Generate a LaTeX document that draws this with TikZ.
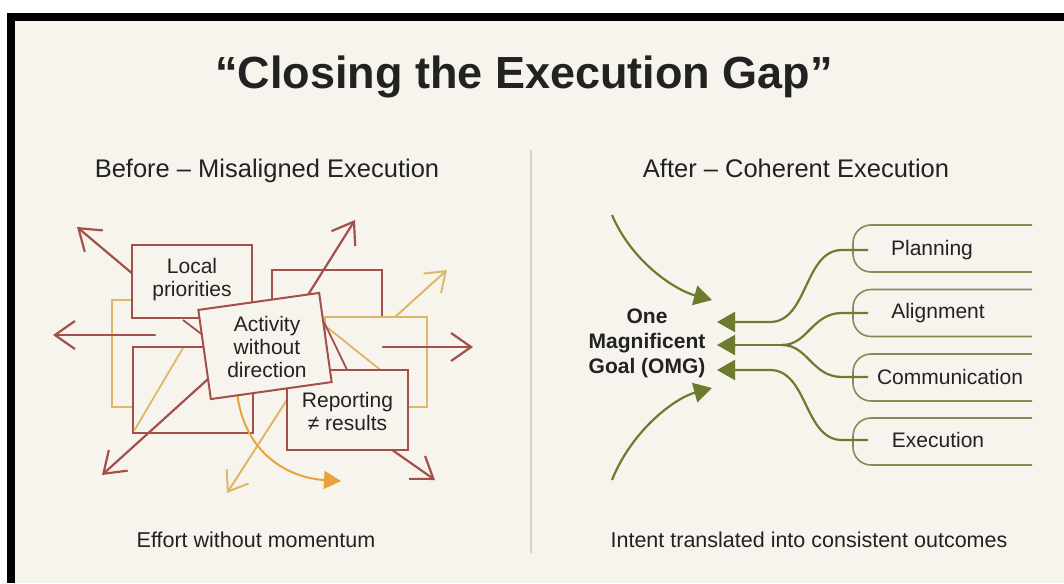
\documentclass[tikz,border=0pt]{standalone}
\usepackage{fontspec}
\setmainfont{Liberation Sans}
\usetikzlibrary{arrows.meta}

\definecolor{paper}{HTML}{F7F4EE}
\definecolor{brick}{HTML}{A4504A}
\definecolor{sand}{HTML}{DDB868}
\definecolor{amber}{HTML}{E9A33C}
\definecolor{olive}{HTML}{6E7B2E}
\definecolor{oliveline}{HTML}{858C55}
\definecolor{ink}{HTML}{222222}
\definecolor{rulegrey}{HTML}{D6D3CC}

\newcommand{\fs}[2]{\fontsize{#1}{#2}\selectfont}

\begin{document}
\begin{tikzpicture}[x=1pt,y=-1pt,
  every node/.style={text=ink, inner sep=0pt},
  title/.style={font=\fs{45}{49}\bfseries},
  heading/.style={font=\fs{25.5}{29}},
  caption/.style={font=\fs{21.5}{25}},
  label/.style={font=\fs{21}{23}, align=center},
  redbox/.style={draw=brick, line width=2pt, fill=paper},
  ghostred/.style={draw=brick, line width=1.6pt, fill=paper},
  ghostsand/.style={draw=sand, line width=1.6pt, fill=paper},
  redarrow/.style={brick, line width=2.2pt, line cap=round,
    -{Straight Barb[length=20pt,width=28pt,line width=2.2pt]}},
  sandarrow/.style={sand, line width=2pt, line cap=round,
    -{Straight Barb[length=18pt,width=26pt,line width=2pt]}},
  redline/.style={brick, line width=1.8pt},
  sandline/.style={sand, line width=1.8pt},
  goalarrow/.style={olive, line width=2.2pt,
    -{Triangle[length=18pt,width=20pt]}},
  branch/.style={olive, line width=2.2pt},
  pill/.style={oliveline, line width=1.6pt, rounded corners=18pt},
]
\useasboundingbox (0,0) rectangle (1064,583);

% page, with the dark frame on the top and left edges
\fill[white] (0,0) rectangle (1064,583);
\fill[paper] (7,13) rectangle (1064,583);
\fill[black] (7,13) rectangle (1064,21);
\fill[black] (7,13) rectangle (15,583);

% title, column headings, captions
\node[title, anchor=base] (title) at (524,89) {“Closing the Execution Gap”};
\node[heading, anchor=base] (hbefore) at (267,177) {Before – Misaligned Execution};
\node[heading, anchor=base] (hafter) at (796,177) {After – Coherent Execution};
\node[caption, anchor=base] (cbefore) at (256,547) {Effort without momentum};
\node[caption, anchor=base] (cafter) at (809,547) {Intent translated into consistent outcomes};
\coordinate (divtop) at (531,150);
\coordinate (divbot) at (531,553);
\draw[rulegrey, line width=1.2pt] (divtop) -- (divbot);

% ---------------- left: misaligned execution ----------------
% stacked background frames
\draw[ghostsand] (112,300) rectangle (240,407);
\draw[ghostred]  (133,347) rectangle (253,433);
\draw[ghostred]  (272,270) rectangle (382,360);
\draw[ghostsand] (325,317) rectangle (427,407);

% scattered arrows and stray lines
\coordinate (a1s) at (140,280); \coordinate (a1e) at (77,227);
\coordinate (a2s) at (155,335); \coordinate (a2e) at (53,335);
\coordinate (a3s) at (301,306); \coordinate (a3e) at (355,220);
\coordinate (a4s) at (383,347); \coordinate (a4e) at (473,347);
\coordinate (a5s) at (218,370); \coordinate (a5e) at (102,475);
\coordinate (a6s) at (378,440); \coordinate (a6e) at (435,480);
\coordinate (t1s) at (395,317); \coordinate (t1e) at (447,270);
\coordinate (t2s) at (292,392); \coordinate (t2e) at (227,493);
\coordinate (oas) at (237,392); \coordinate (oae) at (341,481);
\coordinate (l1s) at (183,320); \coordinate (l1e) at (212,342);
\coordinate (l2s) at (324,322); \coordinate (l2e) at (350,376);
\coordinate (l3s) at (328,328); \coordinate (l3e) at (388,376);
\coordinate (l4s) at (134,431); \coordinate (l4e) at (183,348);

\draw[sandline] (l4s) -- (l4e);
\draw[sandline] (l3s) -- (l3e);
\draw[redline] (l1s) -- (l1e);
\draw[redline] (l2s) -- (l2e);
\draw[sandarrow] (t1s) -- (t1e);
\draw[sandarrow] (t2s) -- (t2e);
\draw[redarrow] (a1s) -- (a1e);
\draw[redarrow] (a2s) -- (a2e);
\draw[redarrow] (a3s) -- (a3e);
\draw[redarrow] (a4s) -- (a4e);
\draw[redarrow] (a5s) -- (a5e);
\draw[redarrow] (a6s) -- (a6e);
\draw[amber, line width=2pt, -{Triangle[length=17pt,width=18pt]}]
  (oas) .. controls (244,455) and (290,478) .. (oae);

% labelled boxes
\node[redbox, minimum width=121pt, minimum height=80pt] (rep) at (347.5,410) {};
\node[label] (reptext) at (347.5,411) {Reporting\\≠ results};
\node[redbox, minimum width=120pt, minimum height=73pt] (loc) at (192,281.5) {};
\node[label] (loctext) at (192,280) {Local\\priorities};
\node[redbox, minimum width=122pt, minimum height=90pt, rotate=8] (act) at (265,346) {};
\node[label] (acttext) at (267,347) {Activity\\without\\direction};

% ---------------- right: coherent execution ----------------
\node[font=\fs{21}{25}\bfseries, align=center] (omg) at (647,343)
  {One\\Magnificent\\Goal (OMG)};

\coordinate (intop) at (612,215);   \coordinate (tiptop) at (712,300);
\coordinate (inbot) at (612,480);   \coordinate (tipbot) at (712,388);
\draw[goalarrow] (intop) .. controls (632,262) and (675,290) .. (tiptop);
\draw[goalarrow] (inbot) .. controls (632,430) and (675,398) .. (tipbot);

% open pill outlines for the four practices
\foreach \c in {248.5,313,377.5,441.5}
  \draw[pill] (1032,\c-23.5) -- (853,\c-23.5) -- (853,\c+23.5) -- (1032,\c+23.5);

\node[font=\fs{21}{25}] (pl) at (932,250) {Planning};
\node[font=\fs{21}{25}] (al) at (938,313) {Alignment};
\node[font=\fs{21}{25}] (co) at (950,377) {Communication};
\node[font=\fs{21}{25}] (ex) at (938,440) {Execution};

\coordinate (plin) at (868,250);
\coordinate (alin) at (868,313);
\coordinate (coin) at (868,377);
\coordinate (exin) at (868,440);
\coordinate (tip1) at (717,322);
\coordinate (tip2) at (717,345);
\coordinate (tip3) at (717,370);
\coordinate (fork) at (782,345);

\draw[goalarrow] (plin) -- (842,250) .. controls (804,250) and (808,322) .. (770,322) -- (tip1);
\draw[branch] (alin) -- (842,313) .. controls (812,313) and (808,345) .. (fork);
\draw[branch] (coin) -- (842,377) .. controls (812,377) and (808,345) .. (fork);
\draw[goalarrow] (fork) -- (tip2);
\draw[goalarrow] (exin) -- (842,440) .. controls (804,440) and (808,370) .. (770,370) -- (tip3);
\end{tikzpicture}
\end{document}
